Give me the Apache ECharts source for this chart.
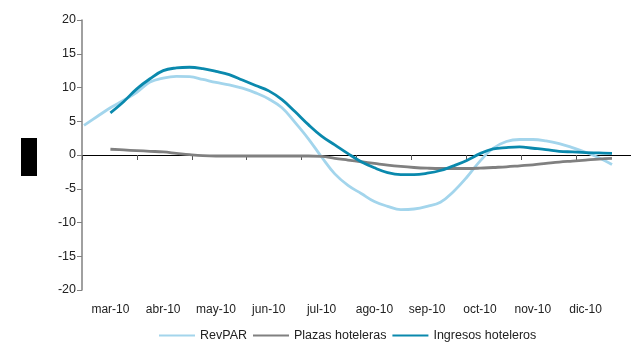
<!DOCTYPE html>
<html>
<head>
<meta charset="utf-8">
<script src="https://cdn.jsdelivr.net/npm/echarts@6/dist/echarts.min.js"></script>
<style>
  html, body { margin: 0; padding: 0; background: #fff; }
  #main { width: 631px; height: 342px; }
</style>
</head>
<body>
<div id="main"></div>
<script>
// meses del eje
const meses = ['mar-10', 'abr-10', 'may-10', 'jun-10', 'jul-10', 'ago-10', 'sep-10', 'oct-10', 'nov-10', 'dic-10']
// posición de cada punto (en meses, 0 = mar-10)
const xs = [-0.5, -0.25, 0, 0.25, 0.5, 0.75, 1, 1.25, 1.5, 1.75, 2, 2.25, 2.5, 2.75, 3, 3.25, 3.5, 3.75, 4, 4.25,
  4.5, 4.75, 5, 5.25, 5.5, 5.75, 6, 6.25, 6.5, 6.75, 7, 7.25, 7.5, 7.75, 8, 8.25, 8.5, 8.75, 9, 9.25, 9.5]

const revpar = [4.4, 5.7, 7.0, 8.1, 9.3, 10.8, 11.4, 11.65, 11.6, 11.2, 10.75, 10.4, 9.9, 9.2, 8.3, 7.0, 4.8, 2.4, -0.3, -2.8,
  -4.5, -5.7, -6.9, -7.6, -8.1, -8.0, -7.6, -7.0, -5.4, -3.3, -0.9, 1.0, 2.0, 2.3, 2.3, 2.1, 1.7, 1.1, 0.4, -0.4, -1.4]
const plazas = [null, null, 0.85, 0.75, 0.65, 0.55, 0.45, 0.25, 0.05, -0.1, -0.15, -0.15, -0.15, -0.15, -0.15, -0.15, -0.15, -0.15, -0.2, -0.5,
  -0.75, -1.0, -1.25, -1.5, -1.7, -1.85, -1.95, -2.0, -2.0, -2.0, -1.95, -1.85, -1.75, -1.6, -1.45, -1.25, -1.05, -0.9, -0.75, -0.6, -0.5]
const ingresos = [null, null, 6.25, 7.9, 9.8, 11.3, 12.5, 12.9, 13.0, 12.8, 12.4, 11.9, 11.1, 10.3, 9.5, 8.2, 6.4, 4.5, 2.8, 1.5,
  0.2, -1.0, -1.9, -2.6, -2.9, -2.9, -2.7, -2.3, -1.6, -0.8, 0.2, 0.9, 1.1, 1.2, 1.0, 0.8, 0.55, 0.45, 0.35, 0.3, 0.25]

const font = 'Liberation Sans, Arial, sans-serif'

function pares(vals) {
  return xs.map((x, i) => [x, vals[i]])
}

function serie(name, vals, color) {
  return {
    name: name,
    type: 'line',
    xAxisIndex: 2,
    yAxisIndex: 1,
    data: pares(vals),
    smooth: 0.4,
    showSymbol: false,
    connectNulls: false,
    lineStyle: { color: color, width: 2.8 },
    itemStyle: { color: color }
  }
}

var chart = echarts.init(document.getElementById('main'), null, { renderer: 'canvas' })

chart.setOption({
  animation: false,
  backgroundColor: '#fff',
  grid: [
    { left: 82, right: -8, top: 20, bottom: 52 },
    { left: 84, right: 19, top: 20, bottom: 52 }
  ],
  legend: {
    left: 154,
    top: 324,
    icon: 'rect',
    itemWidth: 36,
    itemHeight: 2,
    itemGap: 6,
    textStyle: { fontFamily: font, fontSize: 12.5, color: '#222' },
    data: ['RevPAR', 'Plazas hoteleras', 'Ingresos hoteleros']
  },
  xAxis: [
    {
      // línea del cero con marcas
      gridIndex: 0,
      type: 'value',
      min: 0,
      max: 10,
      interval: 1,
      axisLine: { onZero: true, lineStyle: { color: '#000', width: 1 } },
      axisTick: { length: 5, lineStyle: { color: '#555' } },
      axisLabel: { show: false },
      splitLine: { show: false }
    },
    {
      // etiquetas de meses
      gridIndex: 1,
      type: 'category',
      data: meses,
      boundaryGap: true,
      position: 'bottom',
      axisLine: { show: false, onZero: false },
      axisTick: { show: false },
      axisLabel: { margin: 14, fontFamily: font, fontSize: 12, color: '#222' }
    },
    {
      gridIndex: 1,
      type: 'value',
      min: -0.5,
      max: 9.5,
      show: false
    }
  ],
  yAxis: [
    {
      gridIndex: 0,
      type: 'value',
      min: -20,
      max: 20,
      interval: 5,
      axisLine: { show: true, lineStyle: { color: '#808080', width: 1.5 } },
      axisTick: { show: true, length: 5, lineStyle: { color: '#808080' } },
      axisLabel: { margin: 6, fontFamily: font, fontSize: 12.5, color: '#222' },
      splitLine: { show: false }
    },
    {
      gridIndex: 1,
      type: 'value',
      min: -20,
      max: 20,
      show: false
    }
  ],
  graphic: [
    { type: 'rect', left: 21, top: 138, shape: { width: 16, height: 38 }, style: { fill: '#000' } }
  ],
  series: [
    serie('RevPAR', revpar, '#a3d5ec'),
    serie('Plazas hoteleras', plazas, '#808080'),
    serie('Ingresos hoteleros', ingresos, '#0a89ad')
  ]
})
</script>
</body>
</html>
